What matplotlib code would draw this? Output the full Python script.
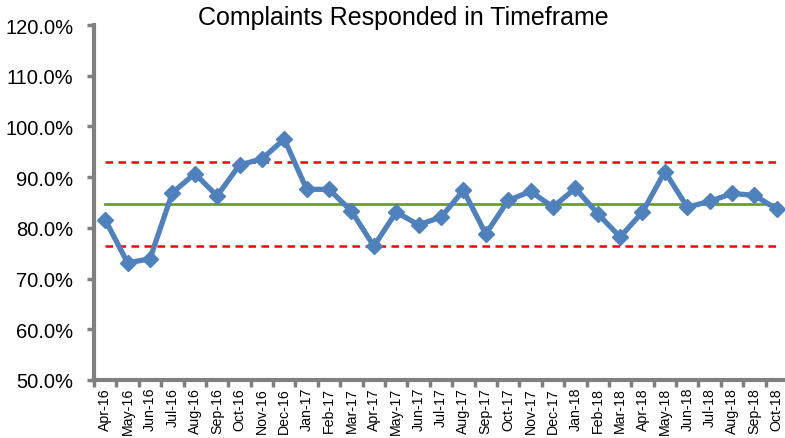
import numpy as np
import matplotlib.pyplot as plt
from matplotlib.ticker import FuncFormatter, MultipleLocator

plt.rcParams['font.family'] = ['Liberation Sans', 'DejaVu Sans']

# data
months = ['Apr-16', 'May-16', 'Jun-16', 'Jul-16', 'Aug-16', 'Sep-16', 'Oct-16',
          'Nov-16', 'Dec-16', 'Jan-17', 'Feb-17', 'Mar-17', 'Apr-17', 'May-17',
          'Jun-17', 'Jul-17', 'Aug-17', 'Sep-17', 'Oct-17', 'Nov-17', 'Dec-17',
          'Jan-18', 'Feb-18', 'Mar-18', 'Apr-18', 'May-18', 'Jun-18', 'Jul-18',
          'Aug-18', 'Sep-18', 'Oct-18']
pct = [81.6, 73.1, 73.9, 86.9, 90.7, 86.3, 92.4, 93.6, 97.5, 87.6, 87.6, 83.3,
       76.4, 83.1, 80.6, 82.1, 87.4, 78.8, 85.4, 87.2, 84.1, 87.8, 82.8, 78.2,
       83.1, 91.1, 84.1, 85.2, 86.8, 86.4, 83.7]
mean_val = 84.7
ucl = 93.0
lcl = 76.4

BLUE = '#4F81BD'
GRAY = '#808080'

fig = plt.figure(figsize=(7.85, 4.39), dpi=100)
ax = fig.add_axes([94/785, 58/439, 694/785, 355/439])

x = np.arange(len(months))
ax.plot(x, [ucl]*len(x), color='#FF0000', lw=1.8, ls=(0, (3, 2.2)))
ax.plot(x, [lcl]*len(x), color='#FF0000', lw=1.8, ls=(0, (3, 2.2)))
ax.plot(x, [mean_val]*len(x), color='#6AA121', lw=2)
ax.plot(x, pct, color=BLUE, lw=3.8, marker='D', markersize=8.5,
        markeredgecolor=BLUE, markerfacecolor=BLUE)

ax.set_xlim(-0.5, len(months) - 0.5)
ax.set_ylim(50, 120)
ax.yaxis.set_major_locator(MultipleLocator(10))
ax.yaxis.set_major_formatter(FuncFormatter(lambda v, p: '%.1f%%' % v))

ax.set_xticks(x)
ax.set_xticklabels(months, rotation=90, fontsize=10.2)
ax.set_xticks(np.arange(-0.5, len(months), 1), minor=True)
ax.tick_params(axis='x', which='major', length=0, pad=5)
ax.tick_params(axis='x', which='minor', length=5, width=2.5, color=GRAY)
ax.tick_params(axis='y', labelsize=14.5, length=5, width=2.5, color=GRAY, pad=10)

for s in ['top', 'right']:
    ax.spines[s].set_visible(False)
for s in ['left', 'bottom']:
    ax.spines[s].set_color(GRAY)
    ax.spines[s].set_linewidth(3)

fig.text(403/785, 1 - 18/439, 'Complaints Responded in Timeframe',
         fontsize=18, ha='center', va='center')

fig.savefig('out.png', dpi=100)
